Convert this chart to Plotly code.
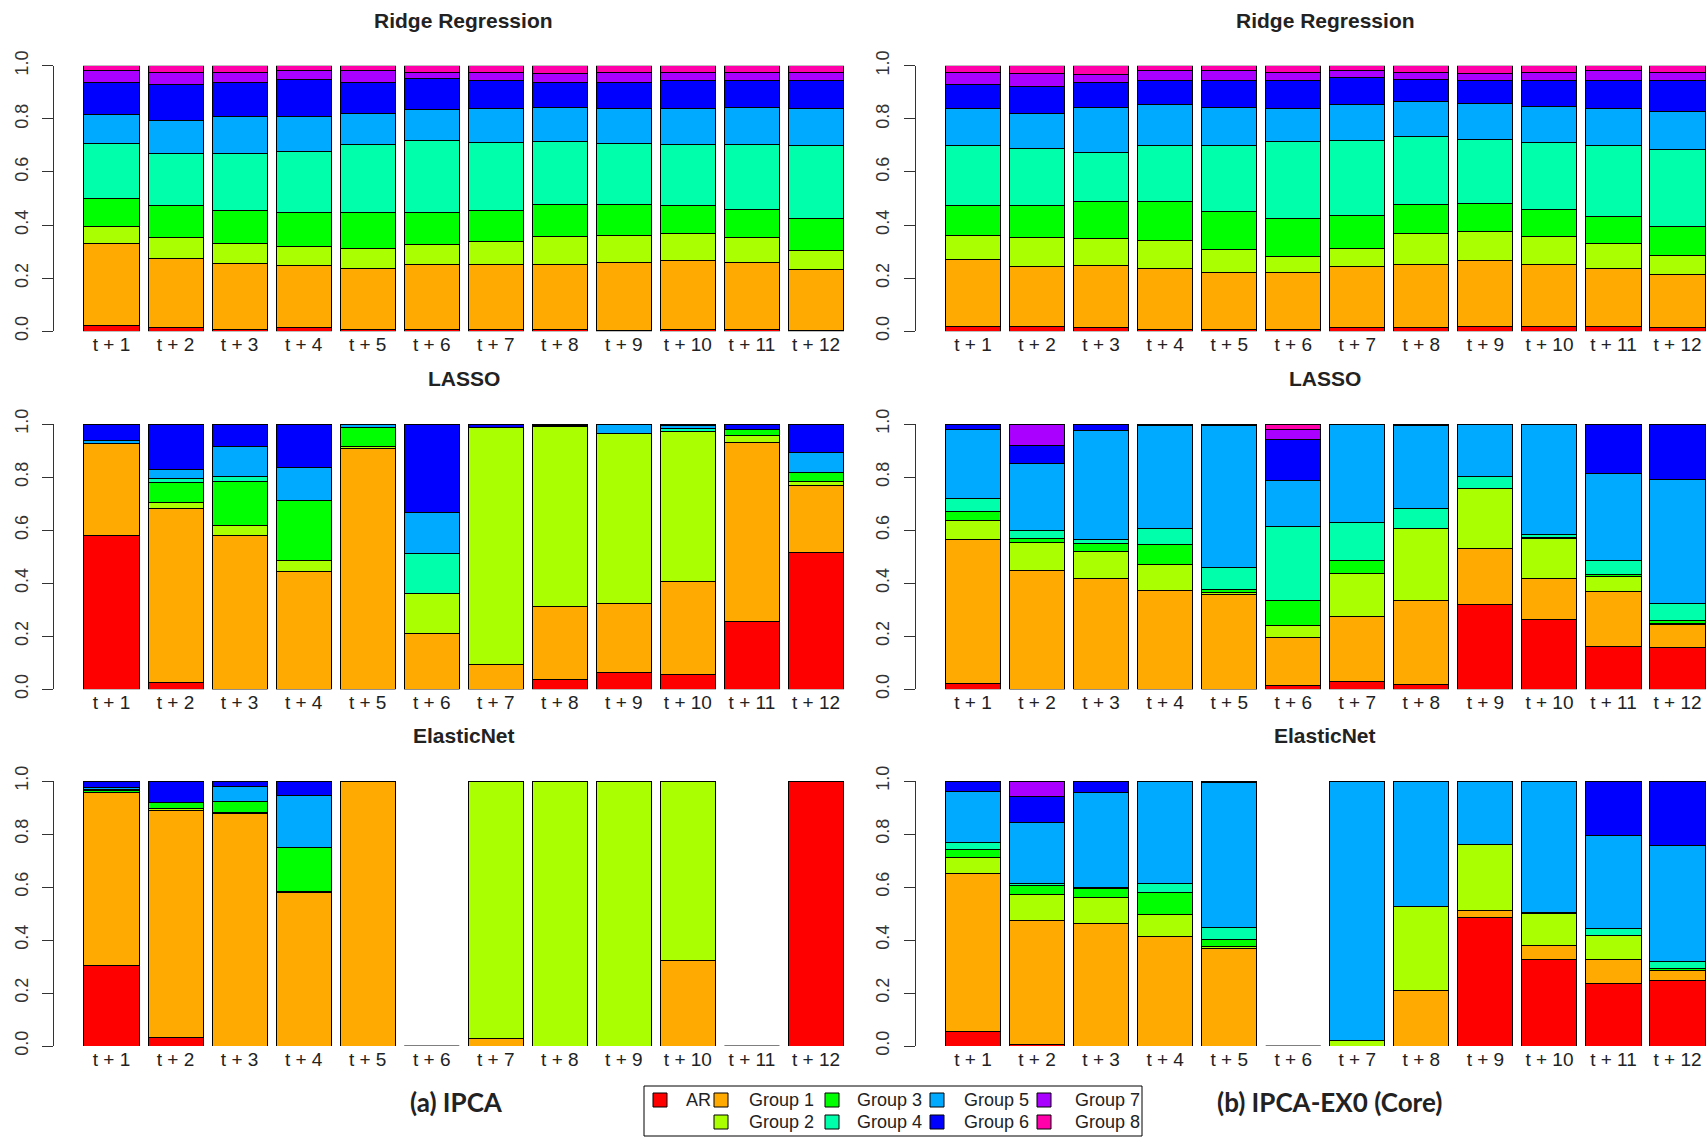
import plotly.graph_objects as go

# ---------------- data ----------------
HORIZONS = ["t + 1", "t + 2", "t + 3", "t + 4", "t + 5", "t + 6",
            "t + 7", "t + 8", "t + 9", "t + 10", "t + 11", "t + 12"]
SERIES = ["AR", "Group 1", "Group 2", "Group 3", "Group 4",
          "Group 5", "Group 6", "Group 7", "Group 8"]
COLORS = ["#FF0000", "#FFAA00", "#AAFF00", "#00FF00", "#00FFAA",
          "#00AAFF", "#0000FF", "#AA00FF", "#FF00AA"]
Y_TICKS = [0.0, 0.2, 0.4, 0.6, 0.8, 1.0]
Y_TICK_TEXT = ["0.0", "0.2", "0.4", "0.6", "0.8", "1.0"]

# Ridge Regression - (a) IPCA
ridge_ipca_AR = [.021, .013, .008, .013, .008, .008, .008, .008, .004, .008, .008, .004]
ridge_ipca_G1 = [.308, .262, .248, .235, .229, .244, .244, .244, .256, .257, .252, .229]
ridge_ipca_G2 = [.067, .078, .073, .072, .074, .073, .086, .104, .100, .105, .093, .073]
ridge_ipca_G3 = [.104, .120, .126, .127, .136, .122, .117, .122, .118, .103, .107, .118]
ridge_ipca_G4 = [.208, .196, .214, .229, .257, .271, .254, .235, .230, .231, .244, .276]
ridge_ipca_G5 = [.108, .125, .139, .132, .117, .116, .129, .130, .130, .135, .139, .139]
ridge_ipca_G6 = [.121, .137, .129, .141, .117, .116, .106, .095, .100, .105, .101, .105]
ridge_ipca_G7 = [.044, .044, .038, .033, .043, .025, .031, .033, .037, .031, .031, .031]
ridge_ipca_G8 = [.019, .025, .025, .018, .019, .025, .025, .029, .025, .025, .025, .025]

# Ridge Regression - (b) IPCA-EX0 (Core)
ridge_core_AR = [.018, .018, .013, .008, .008, .008, .013, .013, .018, .018, .018, .013]
ridge_core_G1 = [.253, .227, .235, .229, .213, .213, .230, .239, .248, .234, .219, .199]
ridge_core_G2 = [.089, .108, .100, .106, .086, .059, .068, .118, .108, .104, .093, .072]
ridge_core_G3 = [.113, .120, .139, .144, .145, .144, .126, .108, .109, .104, .103, .112]
ridge_core_G4 = [.227, .217, .186, .213, .248, .289, .281, .255, .238, .249, .267, .290]
ridge_core_G5 = [.139, .131, .170, .153, .143, .126, .135, .133, .136, .139, .139, .140]
ridge_core_G6 = [.091, .101, .092, .092, .102, .105, .101, .083, .087, .096, .105, .118]
ridge_core_G7 = [.045, .049, .033, .037, .036, .031, .027, .026, .027, .031, .037, .031]
ridge_core_G8 = [.025, .029, .032, .018, .019, .025, .019, .025, .029, .025, .019, .025]

# LASSO - (a) IPCA
lasso_ipca_AR = [.579, .024, 0, 0, 0, 0, 0, .036, .064, .054, .254, .516]
lasso_ipca_G1 = [.348, .658, .579, .443, .906, .212, .095, .277, .258, .354, .677, .254]
lasso_ipca_G2 = [0, .023, .038, .042, .010, .150, .892, .677, .643, .564, .027, .013]
lasso_ipca_G3 = [0, .073, .167, .225, .070, 0, 0, 0, 0, 0, .022, .035]
lasso_ipca_G4 = [0, .017, .017, 0, 0, .149, 0, 0, 0, .010, 0, 0]
lasso_ipca_G5 = [.010, .033, .114, .127, .014, .154, 0, .005, .035, .012, 0, .075]
lasso_ipca_G6 = [.063, .172, .085, .163, 0, .335, .013, .005, 0, .006, .020, .107]
lasso_ipca_G7 = [0, 0, 0, 0, 0, 0, 0, 0, 0, 0, 0, 0]
lasso_ipca_G8 = [0, 0, 0, 0, 0, 0, 0, 0, 0, 0, 0, 0]

# LASSO - (b) IPCA-EX0 (Core)
lasso_core_AR = [.023, 0, 0, 0, 0, .013, .031, .018, .320, .263, .162, .158]
lasso_core_G1 = [.542, .449, .417, .371, .358, .182, .244, .316, .210, .154, .205, .086]
lasso_core_G2 = [.073, .106, .104, .099, .008, .045, .163, .273, .226, .150, .059, .005]
lasso_core_G3 = [.032, .012, .027, .074, .010, .094, .047, 0, 0, .006, .005, .010]
lasso_core_G4 = [.050, .031, .017, .063, .085, .280, .143, .075, .046, .010, .054, .066]
lasso_core_G5 = [.261, .255, .412, .387, .534, .172, .372, .314, .198, .417, .329, .466]
lasso_core_G6 = [.019, .065, .023, .006, .005, .155, 0, .004, 0, 0, .186, .209]
lasso_core_G7 = [0, .082, 0, 0, 0, .040, 0, 0, 0, 0, 0, 0]
lasso_core_G8 = [0, 0, 0, 0, 0, .019, 0, 0, 0, 0, 0, 0]

# ElasticNet - (a) IPCA
enet_ipca_AR = [.304, .031, 0, 0, 0, 0, 0, 0, 0, 0, 0, 1.0]
enet_ipca_G1 = [.651, .856, .877, .580, 1.0, 0, .029, 0, 0, .323, 0, 0]
enet_ipca_G2 = [.003, .009, .005, .004, 0, 0, .971, 1.0, 1.0, .677, 0, 0]
enet_ipca_G3 = [.007, .022, .040, .164, 0, 0, 0, 0, 0, 0, 0, 0]
enet_ipca_G4 = [.003, 0, 0, 0, 0, 0, 0, 0, 0, 0, 0, 0]
enet_ipca_G5 = [.007, 0, .057, .199, 0, 0, 0, 0, 0, 0, 0, 0]
enet_ipca_G6 = [.025, .082, .021, .053, 0, 0, 0, 0, 0, 0, 0, 0]
enet_ipca_G7 = [0, 0, 0, 0, 0, 0, 0, 0, 0, 0, 0, 0]
enet_ipca_G8 = [0, 0, 0, 0, 0, 0, 0, 0, 0, 0, 0, 0]

# ElasticNet - (b) IPCA-EX0 (Core)
enet_core_AR = [.055, .004, 0, 0, 0, 0, 0, 0, .484, .326, .235, .248]
enet_core_G1 = [.597, .471, .462, .413, .367, 0, 0, .211, .028, .055, .091, .038]
enet_core_G2 = [.059, .096, .100, .084, .010, 0, .019, .315, .249, .118, .092, 0]
enet_core_G3 = [.029, .033, .032, .084, .024, 0, 0, 0, 0, .004, 0, .005]
enet_core_G4 = [.027, .009, .004, .032, .048, 0, 0, 0, 0, 0, .026, .027]
enet_core_G5 = [.193, .230, .358, .387, .547, 0, .981, .474, .239, .497, .352, .439]
enet_core_G6 = [.040, .100, .044, 0, .004, 0, 0, 0, 0, 0, .204, .243]
enet_core_G7 = [0, .057, 0, 0, 0, 0, 0, 0, 0, 0, 0, 0]
enet_core_G8 = [0, 0, 0, 0, 0, 0, 0, 0, 0, 0, 0, 0]

PANELS = [
    ("Ridge Regression", 0, 0, [ridge_ipca_AR, ridge_ipca_G1, ridge_ipca_G2, ridge_ipca_G3, ridge_ipca_G4,
                                ridge_ipca_G5, ridge_ipca_G6, ridge_ipca_G7, ridge_ipca_G8]),
    ("Ridge Regression", 0, 1, [ridge_core_AR, ridge_core_G1, ridge_core_G2, ridge_core_G3, ridge_core_G4,
                                ridge_core_G5, ridge_core_G6, ridge_core_G7, ridge_core_G8]),
    ("LASSO", 1, 0, [lasso_ipca_AR, lasso_ipca_G1, lasso_ipca_G2, lasso_ipca_G3, lasso_ipca_G4,
                     lasso_ipca_G5, lasso_ipca_G6, lasso_ipca_G7, lasso_ipca_G8]),
    ("LASSO", 1, 1, [lasso_core_AR, lasso_core_G1, lasso_core_G2, lasso_core_G3, lasso_core_G4,
                     lasso_core_G5, lasso_core_G6, lasso_core_G7, lasso_core_G8]),
    ("ElasticNet", 2, 0, [enet_ipca_AR, enet_ipca_G1, enet_ipca_G2, enet_ipca_G3, enet_ipca_G4,
                          enet_ipca_G5, enet_ipca_G6, enet_ipca_G7, enet_ipca_G8]),
    ("ElasticNet", 2, 1, [enet_core_AR, enet_core_G1, enet_core_G2, enet_core_G3, enet_core_G4,
                          enet_core_G5, enet_core_G6, enet_core_G7, enet_core_G8]),
]
PANEL_LABELS = ["(a) IPCA", "(b) IPCA-EX0 (Core)"]

# ---------------- layout geometry (pixels) ----------------
W, H = 1708, 1137
COL_X = [(54, 873.5, [-0.898, 11.898]), (915.5, 1708, [-0.898, 11.476])]
COL_TITLE_X = [463.5, 1325]
ROW_Y = [(65.7, 331.3), (424.0, 689.3), (781.0, 1046.0)]
TITLE_Y = [20, 378, 735]
BARGAP = 0.14

def px(x):
    return x / W

def py(y):
    return 1 - y / H

fig = go.Figure()
layout = dict(
    width=W, height=H, margin=dict(l=0, r=0, t=0, b=0, autoexpand=False),
    paper_bgcolor="white", plot_bgcolor="white",
    barmode="stack", bargap=BARGAP, showlegend=False,
    font=dict(family="Liberation Sans, Arial, sans-serif", color="#222"),
    annotations=[], shapes=[],
)

xpos = list(range(len(HORIZONS)))
for k, (title, r, c, series_vals) in enumerate(PANELS, start=1):
    s = "" if k == 1 else str(k)
    for name, col, vals in zip(SERIES, COLORS, series_vals):
        fig.add_trace(go.Bar(
            x=xpos, y=vals, name=name, marker=dict(color=col, line=dict(color="black", width=1)),
            xaxis="x" + s, yaxis="y" + s, cliponaxis=False, showlegend=False,
            hovertemplate=name + ": %{y}<extra></extra>"))
    # empty bars drawn as a baseline segment (as R does for zero-height bars)
    totals = [sum(v[i] for v in series_vals) for i in xpos]
    lx, ly = [], []
    half = (1 - BARGAP) / 2
    for i, t in enumerate(totals):
        if t == 0:
            lx += [i - half, i + half, None]
            ly += [0, 0, None]
    if lx:
        fig.add_trace(go.Scatter(x=lx, y=ly, mode="lines", line=dict(color="#555", width=1.5),
                                 xaxis="x" + s, yaxis="y" + s, cliponaxis=False,
                                 showlegend=False, hoverinfo="skip"))
    x0, x1, xr = COL_X[c]
    ytop, ybot = ROW_Y[r]
    layout["xaxis" + s] = dict(
        domain=[px(x0), px(x1)], range=xr, anchor="y" + s, automargin=False,
        tickvals=xpos, ticktext=HORIZONS, ticks="", showline=False, showgrid=False,
        zeroline=False, tickfont=dict(size=19, color="#222"))
    layout["yaxis" + s] = dict(
        domain=[py(ybot), py(ytop)], range=[0, 1], anchor="x" + s, automargin=False,
        tickvals=Y_TICKS, ticktext=Y_TICK_TEXT, tickangle=-90,
        ticks="outside", ticklen=11, tickwidth=1, tickcolor="#333",
        showline=True, linecolor="#333", linewidth=1, showgrid=False, zeroline=False,
        tickfont=dict(size=18, color="#333"), ticklabelstandoff=7)
    layout["annotations"].append(dict(
        text="<b>%s</b>" % title, x=px(COL_TITLE_X[c]), y=py(TITLE_Y[r]), xref="paper", yref="paper",
        xanchor="center", yanchor="middle", showarrow=False,
        font=dict(size=21, color="#222", family="Liberation Sans, Arial, sans-serif")))

# bottom panel labels
for lbl, cx in zip(PANEL_LABELS, [456, 1329]):
    layout["annotations"].append(dict(
        text="<b>%s</b>" % lbl, x=px(cx), y=py(1102), xref="paper", yref="paper",
        xanchor="center", yanchor="middle", showarrow=False,
        font=dict(size=26, color="#222", family="Lato, Open Sans, sans-serif")))

# legend (manual R-style box)
layout["shapes"].append(dict(type="rect", xref="paper", yref="paper",
                             x0=px(644), x1=px(1142), y0=py(1136), y1=py(1086),
                             line=dict(color="black", width=1), fillcolor="white"))
LEG_BOX_X = [660, 721, 721, 832, 832, 937, 937, 1044, 1044]
LEG_TXT_X = [684, 747, 747, 855, 855, 962, 962, 1073, 1073]
LEG_ROW_Y = [1100, 1100, 1122, 1100, 1122, 1100, 1122, 1100, 1122]
for name, col, bx, tx, ry in zip(SERIES, COLORS, LEG_BOX_X, LEG_TXT_X, LEG_ROW_Y):
    layout["shapes"].append(dict(type="rect", xref="paper", yref="paper",
                                 x0=px(bx - 7), x1=px(bx + 7), y0=py(ry + 7), y1=py(ry - 7),
                                 line=dict(color="black", width=1), fillcolor=col))
    layout["annotations"].append(dict(
        text=name, x=px(tx), y=py(ry), xref="paper", yref="paper",
        xanchor="left", yanchor="middle", showarrow=False,
        font=dict(size=18, color="#222")))

fig.update_layout(**layout)
fig.write_html("out.html", config={"displayModeBar": False},
               post_script="document.body.style.margin='0';document.body.style.overflow='hidden';")
